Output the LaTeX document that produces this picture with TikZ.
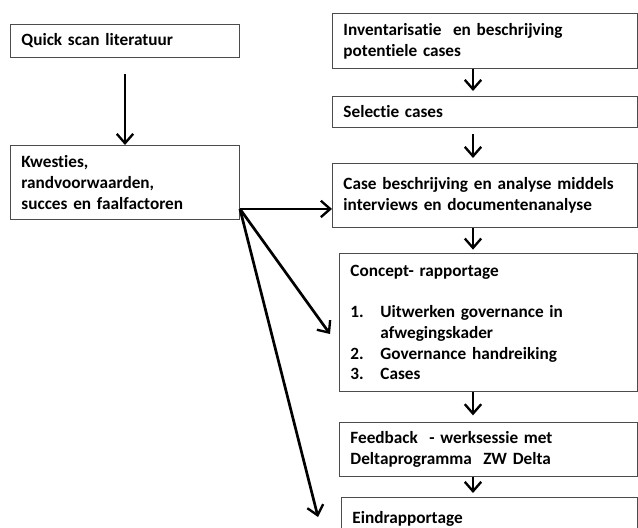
\documentclass[tikz,border=0pt]{standalone}
\usepackage{fontspec}
\setmainfont[WordSpace=0.7, Ligatures=NoCommon]{Carlito}
\usetikzlibrary{arrows.meta, positioning, calc}

\tikzset{
  box/.style={draw=black!70, line width=0.8pt, anchor=north west,
    inner xsep=0.33cm, inner ysep=0pt, align=left,
    font=\bfseries\fontsize{14.7}{17.7}\selectfont},
  flow/.style={line width=2.3pt,
    -{Straight Barb[length=8pt, width=14pt, line width=2pt]}},
}

\begin{document}
\begin{tikzpicture}[x=0.03cm, y=-0.03cm]
    \useasboundingbox (0,0) rectangle (638,527);

    % Left column
    \node[box, minimum width=6.87cm, minimum height=0.99cm, text width=6.21cm]
        (quick) at (10,24) {Quick scan literatuur};
    \node[box, minimum width=6.87cm, minimum height=2.22cm, text width=6.21cm]
        (kw) at (10,145) {Kwesties,\\ randvoorwaarden,\\ succes en faalfactoren};

    % Right column
    \node[box, minimum width=9.15cm, minimum height=1.65cm, text width=8.49cm]
        (inv) at (332,13) {Inventarisatie\ \ en beschrijving\\ potentiele cases};
    \node[box, minimum width=9.15cm, minimum height=0.93cm, text width=8.49cm]
        (sel) at (332,96) {Selectie cases};
    \node[box, minimum width=9.15cm, minimum height=1.92cm, text width=8.49cm]
        (case) at (332,163) {Case beschrijving en analyse middels\\ interviews en documentenanalyse};
    \node[box, minimum width=8.94cm, minimum height=4.14cm, text width=8.28cm]
        (conc) at (339,253) {Concept- rapportage\\[17.7pt]
        \makebox[0.9cm][l]{1.}Uitwerken governance in\\
        \hspace*{0.9cm}afwegingskader\\
        \makebox[0.9cm][l]{2.}Governance handreiking\\
        \makebox[0.9cm][l]{3.}Cases};
    \node[box, minimum width=8.94cm, minimum height=1.62cm, text width=8.28cm]
        (feed) at (339,422) {Feedback\ \ - werksessie met\\ Deltaprogramma\ \ ZW Delta};
    \node[box, minimum width=8.88cm, minimum height=1.26cm, text width=8.22cm]
        (eind) at (341,497) {Eindrapportage};

    % Arrows
    \coordinate (col) at (473,0);
    \coordinate (split) at ($(kw.south east)+(0,-11)$);
    \coordinate (t1) at (330,334);
    \coordinate (t2) at (318,517);

    \draw[flow, shorten <=0.48cm] (quick.south) -- (kw.north);
    \draw[flow, shorten >=0.15cm] (inv.south -| col) -- (sel.north -| col);
    \draw[flow, shorten <=0.18cm, shorten >=0.15cm] (sel.south -| col) -- (case.north -| col);
    \draw[flow, shorten >=0.1cm] (case.south -| col) -- (conc.north -| col);
    \draw[flow, shorten >=0.2cm] (conc.south -| col) -- (feed.north -| col);
    \draw[flow, shorten >=0.12cm] (feed.south -| col) -- (eind.north -| col);

    \draw[flow] (split) -- (split -| case.west);
    \draw[flow] (split) -- (t1);
    \draw[flow] (split) -- (t2);
\end{tikzpicture}
\end{document}
